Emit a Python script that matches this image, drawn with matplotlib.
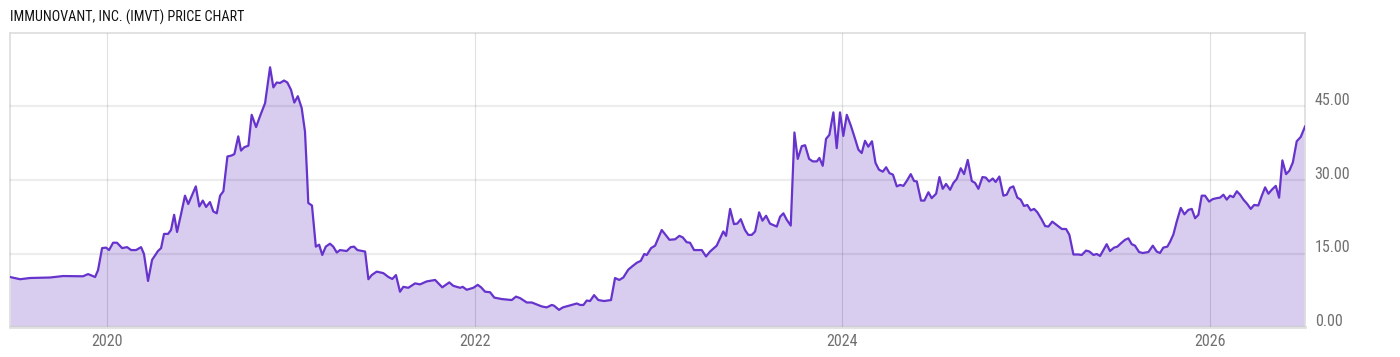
import matplotlib
matplotlib.use("Agg")
import matplotlib.pyplot as plt
import matplotlib.transforms as mtransforms
from matplotlib import font_manager

# decimal-year dates and closing prices
dates = [
 2019.472, 2019.527, 2019.581, 2019.690, 2019.761, 2019.869, 2019.897, 2019.935, 2019.951, 2019.973,
 2019.995, 2020.011, 2020.033, 2020.054, 2020.082, 2020.109, 2020.131, 2020.158, 2020.185, 2020.201,
 2020.223, 2020.245, 2020.277, 2020.294, 2020.310, 2020.332, 2020.348, 2020.365, 2020.381, 2020.403,
 2020.424, 2020.442, 2020.483, 2020.502, 2020.521, 2020.539, 2020.560, 2020.578, 2020.597, 2020.615,
 2020.633, 2020.655, 2020.678, 2020.693, 2020.714, 2020.729, 2020.747, 2020.769, 2020.787, 2020.811,
 2020.832, 2020.860, 2020.865, 2020.887, 2020.905, 2020.923, 2020.941, 2020.963, 2020.981, 2021.001,
 2021.019, 2021.038, 2021.059, 2021.077, 2021.087, 2021.095, 2021.115, 2021.136, 2021.154, 2021.171,
 2021.190, 2021.213, 2021.231, 2021.250, 2021.268, 2021.304, 2021.326, 2021.344, 2021.362, 2021.404,
 2021.422, 2021.440, 2021.467, 2021.503, 2021.531, 2021.552, 2021.572, 2021.594, 2021.612, 2021.639,
 2021.676, 2021.703, 2021.739, 2021.785, 2021.824, 2021.862, 2021.884, 2021.921, 2021.935, 2021.957,
 2021.993, 2022.017, 2022.035, 2022.057, 2022.084, 2022.107, 2022.148, 2022.202, 2022.225, 2022.247,
 2022.284, 2022.311, 2022.338, 2022.365, 2022.392, 2022.420, 2022.432, 2022.459, 2022.480, 2022.510,
 2022.528, 2022.556, 2022.574, 2022.592, 2022.610, 2022.628, 2022.650, 2022.673, 2022.704, 2022.742,
 2022.764, 2022.787, 2022.809, 2022.836, 2022.855, 2022.882, 2022.904, 2022.923, 2022.937, 2022.960,
 2022.982, 2023.018, 2023.060, 2023.091, 2023.114, 2023.132, 2023.154, 2023.172, 2023.194, 2023.236,
 2023.259, 2023.281, 2023.317, 2023.353, 2023.368, 2023.390, 2023.411, 2023.429, 2023.448, 2023.471,
 2023.489, 2023.508, 2023.526, 2023.548, 2023.566, 2023.586, 2023.607, 2023.644, 2023.662, 2023.680,
 2023.698, 2023.720, 2023.740, 2023.758, 2023.780, 2023.798, 2023.820, 2023.840, 2023.862, 2023.876,
 2023.894, 2023.912, 2023.930, 2023.952, 2023.970, 2023.988, 2024.006, 2024.025, 2024.047, 2024.070,
 2024.088, 2024.106, 2024.124, 2024.142, 2024.162, 2024.181, 2024.200, 2024.221, 2024.239, 2024.257,
 2024.276, 2024.297, 2024.315, 2024.333, 2024.351, 2024.373, 2024.391, 2024.406, 2024.429, 2024.447,
 2024.469, 2024.487, 2024.511, 2024.529, 2024.547, 2024.565, 2024.587, 2024.605, 2024.623, 2024.645,
 2024.663, 2024.683, 2024.705, 2024.723, 2024.741, 2024.763, 2024.781, 2024.799, 2024.819, 2024.835,
 2024.855, 2024.877, 2024.895, 2024.913, 2024.931, 2024.953, 2024.971, 2024.989, 2025.007, 2025.026,
 2025.044, 2025.062, 2025.086, 2025.104, 2025.122, 2025.143, 2025.167, 2025.195, 2025.218, 2025.236,
 2025.258, 2025.285, 2025.303, 2025.327, 2025.345, 2025.367, 2025.385, 2025.403, 2025.421, 2025.439,
 2025.457, 2025.479, 2025.497, 2025.517, 2025.539, 2025.557, 2025.575, 2025.593, 2025.615, 2025.635,
 2025.666, 2025.690, 2025.711, 2025.729, 2025.747, 2025.769, 2025.784, 2025.802, 2025.820, 2025.842,
 2025.862, 2025.883, 2025.902, 2025.920, 2025.938, 2025.956, 2025.974, 2025.996, 2026.016, 2026.038,
 2026.056, 2026.074, 2026.092, 2026.110, 2026.128, 2026.147, 2026.165, 2026.183, 2026.204, 2026.223,
 2026.241, 2026.264, 2026.283, 2026.301, 2026.319, 2026.337, 2026.359, 2026.377, 2026.395, 2026.415,
 2026.433, 2026.452, 2026.473, 2026.495, 2026.518,
]

prices = [
 10.2, 9.75, 10.0, 10.1, 10.4, 10.35, 10.8, 10.2, 11.6, 16.1,
 16.2, 15.7, 17.2, 17.2, 16.1, 16.3, 15.7, 15.7, 16.3, 14.9,
 9.4, 13.7, 15.5, 16.1, 19.0, 19.0, 19.8, 22.9, 19.4, 23.1,
 26.8, 25.1, 28.7, 24.6, 25.8, 24.5, 25.5, 23.6, 23.2, 26.8,
 27.7, 34.8, 35.0, 35.3, 38.9, 36.0, 36.7, 37.0, 43.3, 40.8,
 43.0, 45.7, 47.1, 53.0, 48.9, 49.9, 49.8, 50.3, 49.9, 48.4,
 45.8, 47.1, 44.7, 39.9, 32.1, 25.3, 24.8, 16.4, 16.8, 14.7,
 16.4, 17.0, 16.4, 15.2, 15.7, 15.5, 16.3, 16.4, 15.7, 15.4,
 9.75, 10.6, 11.3, 11.0, 10.2, 9.8, 10.6, 7.2, 8.2, 8.0,
 8.9, 8.7, 9.3, 9.6, 8.1, 9.1, 8.4, 8.0, 8.2, 7.6,
 8.0, 8.6, 8.1, 7.2, 7.1, 6.0, 5.7, 5.5, 6.2, 5.9,
 5.0, 5.0, 4.6, 4.2, 4.0, 4.5, 4.35, 3.5, 4.0, 4.3,
 4.5, 4.8, 4.5, 4.5, 5.4, 5.3, 6.5, 5.5, 5.3, 5.5,
 10.0, 9.6, 10.1, 11.7, 12.3, 13.1, 13.5, 14.9, 14.7, 16.1,
 16.6, 19.8, 17.8, 17.9, 18.6, 18.3, 17.3, 17.2, 15.7, 15.7,
 14.4, 15.4, 16.6, 19.5, 18.6, 24.1, 21.0, 21.1, 22.0, 19.8,
 18.8, 18.8, 19.5, 23.4, 21.7, 22.7, 21.1, 20.5, 22.5, 23.2,
 21.9, 20.7, 39.7, 34.3, 36.9, 37.1, 34.3, 33.8, 33.8, 34.5,
 32.9, 38.4, 39.2, 43.8, 36.5, 43.8, 39.0, 43.3, 41.1, 38.4,
 36.2, 35.5, 38.0, 36.8, 37.9, 33.5, 32.1, 31.7, 32.6, 31.4,
 31.1, 28.7, 29.0, 28.8, 29.8, 31.2, 29.8, 29.7, 25.8, 25.8,
 27.5, 26.3, 27.2, 30.6, 28.2, 29.2, 28.0, 29.4, 30.2, 32.4,
 31.2, 34.1, 29.8, 29.4, 28.2, 30.6, 30.5, 29.7, 30.3, 29.6,
 30.7, 26.8, 27.0, 28.4, 28.7, 26.4, 26.0, 24.7, 24.9, 23.8,
 24.1, 23.4, 21.9, 20.6, 20.5, 21.5, 20.8, 20.0, 20.0, 18.8,
 14.8, 14.8, 14.7, 15.6, 15.4, 14.7, 14.9, 14.5, 15.7, 16.9,
 15.5, 16.2, 16.4, 17.1, 17.8, 18.1, 16.9, 16.6, 15.3, 15.1,
 15.3, 16.6, 15.4, 15.1, 16.2, 16.4, 17.4, 18.9, 21.5, 24.3,
 23.0, 23.9, 24.1, 22.2, 22.9, 26.8, 26.8, 25.6, 26.1, 26.3,
 26.4, 27.0, 26.0, 26.8, 26.5, 27.7, 27.0, 26.0, 25.1, 24.1,
 24.9, 24.8, 26.8, 28.5, 27.2, 28.0, 28.8, 26.4, 34.0, 31.2,
 31.9, 33.6, 37.9, 38.8, 40.9,
]

x_ticks = [2020, 2022, 2024, 2026]
x_tick_labels = ["2020", "2022", "2024", "2026"]
y_ticks = [0, 15, 30, 45]
y_tick_labels = ["0.00", "15.00", "30.00", "45.00"]
title = "IMMUNOVANT, INC. (IMVT) PRICE CHART"

names = {f.name for f in font_manager.fontManager.ttflist}
narrow = 'Roboto'
for cand in ['Roboto Condensed', 'Archivo Narrow', 'Asap Condensed', 'Liberation Sans Narrow']:
    if cand in names:
        narrow = cand
        break
plt.rcParams['font.family'] = [narrow, 'Roboto', 'DejaVu Sans']

fig = plt.figure(figsize=(14, 3.57), dpi=100)
ax = fig.add_axes([10/1400, 30/357, 1295/1400, 294/357])

line_color = "#6633cc"
fill_color = "#d8ccef"

ax.fill_between(dates, prices, 0, color=fill_color, linewidth=0, zorder=1)
ax.plot(dates, prices, color=line_color, linewidth=1.6, zorder=3, solid_joinstyle='round')

ax.set_xlim(dates[0], dates[-1])
ax.set_ylim(0, 60)

ax.set_xticks(x_ticks)
ax.set_xticklabels(x_tick_labels)
ax.set_yticks(y_ticks)
ax.set_yticklabels(y_tick_labels)

ax.yaxis.tick_right()
ax.tick_params(axis='both', length=0, labelsize=11.5, labelcolor="#707070")
ax.tick_params(axis='y', pad=7)
ax.tick_params(axis='x', pad=5)

offset = mtransforms.ScaledTranslation(0, 7/100, fig.dpi_scale_trans)
for lab in ax.get_yticklabels():
    lab.set_transform(lab.get_transform() + offset)
    lab.set_horizontalalignment('left')

ax.yaxis.grid(True, color="#000000", alpha=0.07, linewidth=1.6, zorder=2)
ax.xaxis.grid(True, color="#000000", alpha=0.12, linewidth=0.8, zorder=2)
ax.set_axisbelow(False)

for side in ['left', 'right', 'top']:
    ax.spines[side].set_color("#dddddd")
    ax.spines[side].set_linewidth(1.2)
ax.spines['bottom'].set_color("#e0e0e0")
ax.spines['bottom'].set_linewidth(2.0)

fig.text(10/1400, 1 - 17/357, title, fontsize=10.2, color="#111111",
         ha='left', va='center')

fig.savefig("out.png", dpi=100)
